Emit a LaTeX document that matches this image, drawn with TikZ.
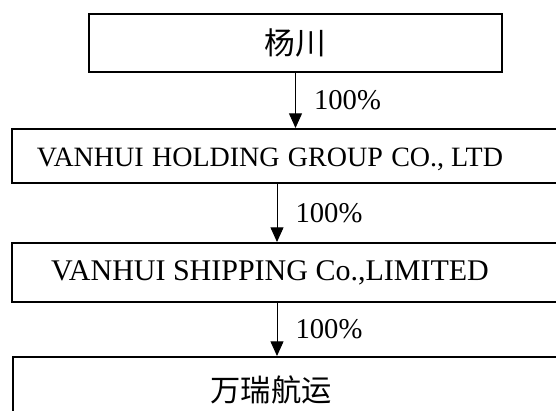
\documentclass[tikz,border=0pt]{standalone}
\usepackage{fontspec}
\setmainfont{Liberation Serif}
\newfontfamily\cjk{Noto Sans CJK SC}
\usetikzlibrary{positioning,arrows.meta}

\begin{document}
\begin{tikzpicture}[x=0.75pt,y=-0.75pt,
    box/.style={draw,line width=1.5pt,rectangle,inner sep=0pt,anchor=north west},
    txt/.style={inner sep=0pt,font=\fontsize{22.5}{26}\selectfont},
    pct/.style={anchor=west,xshift=13.5pt,inner sep=0pt,font=\fontsize{21.5}{25}\selectfont},
    arr/.style={-{Triangle[width=9.75pt,length=11pt]},line width=0.75pt}]
\useasboundingbox (0,0) rectangle (556,410);
\clip (0,0) rectangle (556,410);

% boxes
\node[box,minimum width=309.75pt,minimum height=43.5pt,font=\fontsize{23}{26}\selectfont] (yc) at (88,13) {\cjk 杨川};
\node[box,minimum width=450pt,minimum height=40.5pt] (vh) at (11,128) {};
\node[txt,anchor=base,font=\fontsize{21}{25}\selectfont] (vht) at (270,166) {VANHUI\hspace{0.3em}HOLDING\hspace{0.3em}GROUP\hspace{0.3em}CO., LTD};
\node[box,minimum width=450pt,minimum height=44.25pt] (vs) at (11,242) {};
\node[txt,anchor=base] (vst) at (270,280) {VANHUI SHIPPING Co.,LIMITED};
\node[box,minimum width=450pt,minimum height=60pt] (wr) at (12,356) {};
\node[txt,font=\fontsize{22.7}{26}\selectfont] (wrt) at (271,390) {\cjk 万瑞航运};

\coordinate (c2) at (277,0);

% arrows
\draw[arr] (yc) -- node[pct]{100\%} (yc |- vh.north);
\draw[arr] (vh.south -| c2) -- node[pct]{100\%} (vs.north -| c2);
\draw[arr] (vs.south -| c2) -- node[pct]{100\%} (wr.north -| c2);
\end{tikzpicture}
\end{document}
